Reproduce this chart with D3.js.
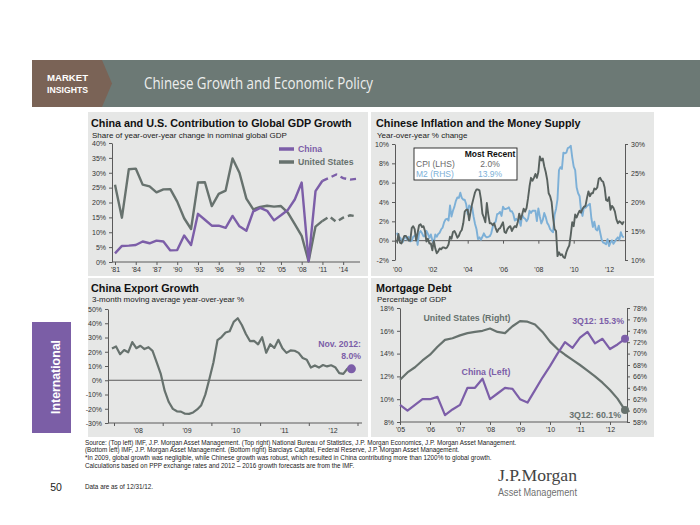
<!DOCTYPE html>
<html><head><meta charset="utf-8">
<script src="https://cdn.jsdelivr.net/npm/d3@7"></script>
<style>
body{margin:0;background:#fff}
svg{display:block;font-family:"Liberation Sans",Arial,sans-serif}
</style></head>
<body><svg id="c" width="700" height="525"></svg>
<script>
// ---------------- DATA ----------------
// Panel 1: China & US contribution to global GDP growth (%), 1981-2016 (2012-2016 IMF forecasts)
const gdpYears = [1981,1982,1983,1984,1985,1986,1987,1988,1989,1990,1991,1992,1993,1994,1995,1996,1997,1998,1999,2000,2001,2002,2003,2004,2005,2006,2007,2008,2009,2010,2011,2012,2013,2014,2015,2016];
const gdpChina = [2.9,5.4,5.5,5.7,6.9,6.3,7.2,6.9,3.9,4.0,8.9,5.7,16.2,14.2,12.2,12.2,11.5,15.5,12.0,10.5,17.0,18.2,17.2,14.0,15.7,17.5,21.0,26.7,0.3,23.8,27.3,28.3,29.4,28.2,27.7,28.0];
const gdpUS    = [26.0,14.9,31.2,31.4,26.0,25.4,23.4,24.4,24.5,20.3,14.7,11.1,26.7,26.8,18.8,22.9,24.0,34.8,30.0,21.3,17.7,18.5,18.9,18.6,18.8,16.6,12.7,8.8,0.2,11.9,13.8,15.3,13.5,14.9,15.7,15.3];
const gdpLastActual = 2011;
const gdpYTicks = [0,5,10,15,20,25,30,35,40];
const gdpXTicks = [1981,1984,1987,1990,1993,1996,1999,2002,2005,2008,2011,2014];
const gdpXLabels = ["'81","'84","'87","'90","'93","'96","'99","'02","'05","'08","'11","'14"];

// Panel 2: Chinese CPI (LHS) and M2 (RHS), y/y %, monthly Jan 2000 - Nov 2012
const cpiStartYear = 2000;
const cpi = [
 -0.2,0.7,-0.2,-0.3,0.1,0.5,0.5,0.3,0.0,0.0,1.3,1.5,
 1.2,0.0,0.8,1.6,1.7,1.4,1.5,1.0,-0.1,0.2,-0.3,-0.3,
 -1.0,0.0,-0.8,-1.3,-1.1,-0.8,-0.9,-0.7,-0.7,-0.8,-0.7,-0.4,
 0.4,0.2,0.9,1.0,0.7,0.3,0.5,0.9,1.1,1.8,3.0,3.2,
 3.2,2.1,3.0,3.8,4.4,5.0,5.3,5.3,5.2,4.3,2.8,2.4,
 1.9,3.9,2.7,1.8,1.8,1.6,1.8,1.3,0.9,1.2,1.3,1.6,
 1.9,0.9,0.8,1.2,1.4,1.5,1.0,1.3,1.5,1.4,1.9,2.8,
 2.2,2.7,3.3,3.0,3.4,4.4,5.6,6.5,6.2,6.5,6.9,6.5,
 7.1,8.7,8.3,8.5,7.7,7.1,6.3,4.9,4.6,4.0,2.4,1.2,
 1.0,-1.6,-1.2,-1.5,-1.4,-1.7,-1.8,-1.2,-0.8,-0.5,0.6,1.9,
 1.5,2.7,2.4,2.8,3.1,2.9,3.3,3.5,3.6,4.4,5.1,4.6,
 4.9,4.9,5.4,5.3,5.5,6.4,6.5,6.2,6.1,5.5,4.2,4.1,
 4.5,3.2,3.6,3.4,3.0,2.2,1.8,2.0,1.9,1.7,2.0];
const m2 = [
 14.7,13.8,13.9,13.5,13.1,14.0,13.9,13.5,14.0,13.2,13.3,14.0,
 14.2,14.4,12.6,14.6,15.0,14.6,14.1,14.1,15.0,14.5,13.8,14.4,
 13.4,13.0,14.4,14.0,14.5,14.7,15.3,15.6,16.5,17.0,17.1,16.8,
 19.4,17.5,18.5,19.2,20.2,20.8,20.7,21.6,20.7,20.4,20.4,19.6,
 17.9,19.4,19.1,19.1,17.5,16.2,15.3,13.6,13.9,13.5,14.0,14.6,
 14.1,13.9,14.0,14.1,14.6,15.7,16.3,16.6,17.9,18.0,18.3,17.6,
 19.2,18.8,18.8,18.9,19.1,18.4,18.4,17.9,16.8,17.1,16.8,16.9,
 15.9,17.8,17.3,17.1,16.7,17.1,18.5,18.1,18.5,18.5,18.5,16.7,
 18.9,17.5,16.3,16.9,18.1,17.4,16.4,16.0,15.3,15.0,14.8,17.8,
 18.8,20.5,25.5,26.0,25.7,28.5,28.4,28.5,29.3,29.4,29.7,27.7,
 26.1,25.5,22.5,21.5,21.0,18.5,17.6,19.2,19.0,19.3,19.5,19.7,
 17.2,15.7,16.6,15.3,15.1,15.9,14.7,13.5,13.0,12.9,12.7,13.6,
 12.4,13.0,13.4,12.8,13.2,13.6,13.9,13.5,14.8,14.1,13.9];
const infLeftTicks = [-2,0,2,4,6,8,10];
const infRightTicks = [10,15,20,25,30];
const infXTicks = [2000,2002,2004,2006,2008,2010,2012];
const infXLabels = ["'00","'02","'04","'06","'08","'10","'12"];
const mostRecentCPI = "2.0%";
const mostRecentM2 = "13.9%";

// Panel 3: China exports, 3-month moving average y/y %, monthly Dec 2007 - Nov 2012
const expStart = [2007, 12];
const exports3m = [
 22.3,
 23.7,18.3,21.2,19.6,26.8,22.5,24.2,21.9,23.2,20.6,12.8,4.7,
 -7.5,-15.3,-20.1,-21.8,-22.0,-23.5,-23.6,-22.6,-20.5,-17.5,-10.1,0.9,
 12.5,28.1,30.3,33.5,34.4,41.0,43.5,38.8,32.5,27.5,27.6,25.2,
 30.2,19.3,25.3,22.7,28.4,22.4,19.2,20.9,20.7,19.2,15.6,14.4,
 8.9,10.4,8.9,10.7,9.7,10.5,9.2,5.0,4.5,8.1,8.0];
const expYTicks = [-30,-20,-10,0,10,20,30,40,50];
const expXYears = [2008,2009,2010,2011,2012];
const expXLabels = ["'08","'09","'10","'11","'12"];

// Panel 4: Mortgage debt, % of GDP, quarterly 1Q05 - 3Q12
const mortStartYear = 2005;
const mortChina = [9.5,9.0,9.5,10.0, 10.0,10.2,8.6,9.1, 9.5,11.0,11.0,11.8, 10.0,10.5,11.0,10.9, 10.0,9.7,10.8,11.9, 12.9,14.0,15.0,14.5, 15.4,15.9,14.9,15.3, 14.4,14.8,15.3];
const mortUS    = [65.4,66.7,67.6,68.8, 69.8,71.2,72.4,72.7, 73.2,73.6,73.8,74.0, 74.4,73.8,73.6,74.8, 75.7,75.6,75.1,73.8, 72.1,70.8,69.8,68.9, 68.0,67.0,66.0,64.9, 63.6,62.1,60.1];
const mortLeftTicks = [8,10,12,14,16,18];
const mortRightTicks = [58,60,62,64,66,68,70,72,74,76,78];
const mortXYears = [2005,2006,2007,2008,2009,2010,2011,2012];
const mortXLabels = ["'05","'06","'07","'08","'09","'10","'11","'12"];

const footLines = [
 "Source: (Top left) IMF, J.P. Morgan Asset Management. (Top right) National Bureau of Statistics, J.P. Morgan Economics, J.P. Morgan Asset Management.",
 "(Bottom left) IMF, J.P. Morgan Asset Management. (Bottom right) Barclays Capital, Federal Reserve, J.P. Morgan Asset Management.",
 "*In 2009, global growth was negligible, while Chinese growth was robust, which resulted in China contributing more than 1200% to global growth.",
 "Calculations based on PPP exchange rates and 2012 \u2013 2016 growth forecasts are from the IMF."
];

// ---------------- STYLE ----------------
const PURPLE = "#7c5ea8", GRAY = "#67726e", DGRAY = "#58615e", BLUE = "#7db0d7";
const BG = "#e6e7e6", AX = "#5a5a5a", TXT = "#333";
const OPEN = "'Open Sans',sans-serif";

const svg = d3.select("#c");

// ---------- header ----------
svg.append("rect").attr("x",32).attr("y",60).attr("width",668).attr("height",47).attr("fill","#6c7975");
svg.append("path").attr("d","M32,60 L102,60 L112,83.5 L102,107 L32,107 Z").attr("fill","#7a6356");
svg.append("text").attr("x",47).attr("y",80.5).attr("font-size",9.5).attr("font-weight","bold")
  .attr("fill","#fff").attr("textLength",41).attr("lengthAdjust","spacingAndGlyphs").text("MARKET");
svg.append("text").attr("x",47).attr("y",92.5).attr("font-size",9.5).attr("font-weight","bold")
  .attr("fill","#fff").attr("textLength",41).attr("lengthAdjust","spacingAndGlyphs").text("INSIGHTS");
svg.append("text").attr("x",144).attr("y",89).attr("font-size",15.5)
  .attr("fill","#eceeed").style("font-family",OPEN).attr("textLength",229).attr("lengthAdjust","spacingAndGlyphs").text("Chinese Growth and Economic Policy");

// ---------- side tab ----------
svg.append("rect").attr("x",32).attr("y",322).attr("width",39).attr("height",111).attr("fill","#7b5ea6");
svg.append("text").attr("transform","translate(56,377) rotate(-90)").attr("text-anchor","middle")
  .attr("dominant-baseline","central").attr("font-size",12.3).attr("font-weight","bold").attr("fill","#fff").text("International");
svg.append("text").attr("x",56).attr("y",491).attr("text-anchor","middle").attr("font-size",10.5).attr("fill","#222").text("50");

// ---------- panels ----------
[[88,112,280,164],[371,112,283,164],[88,278,280,159],[371,278,283,159]].forEach(p=>{
  svg.append("rect").attr("x",p[0]).attr("y",p[1]).attr("width",p[2]).attr("height",p[3]).attr("fill",BG);
});

function title(x,y,t,s){
  svg.append("text").attr("x",x).attr("y",y).attr("font-size",10.8).attr("font-weight","bold").attr("fill","#111").text(t);
  svg.append("text").attr("x",x+1).attr("y",y+10.5).attr("font-size",8).attr("fill","#222").text(s);
}
function styleAxis(g){
  g.attr("font-family",null);
  g.selectAll(".domain").attr("stroke",AX);
  g.selectAll(".tick line").attr("stroke",AX);
  g.selectAll(".tick text").attr("font-size",7).attr("fill",TXT);
}
function hline(x1,x2,y){ svg.append("line").attr("x1",x1).attr("x2",x2).attr("y1",y).attr("y2",y).attr("stroke",AX).attr("stroke-width",1); }
function label(x,y,t,c,anchor,size,w){
  svg.append("text").attr("x",x).attr("y",y).attr("text-anchor",anchor||"start").attr("font-size",size||8.7)
   .attr("font-weight",w||"bold").attr("fill",c).text(t);
}

// ===== Panel 1 =====
title(91,127,"China and U.S. Contribution to Global GDP Growth","Share of year-over-year change in nominal global GDP");
{
  const x = d3.scaleLinear().domain([1981,2016]).range([115,357]);
  const y = d3.scaleLinear().domain([0,40]).range([262,143]);
  const gy = svg.append("g").attr("transform","translate(112,0)")
    .call(d3.axisLeft(y).tickValues(gdpYTicks).tickFormat(d=>d+"%").tickSize(3).tickSizeOuter(0).tickPadding(3));
  styleAxis(gy);
  const gx = svg.append("g").attr("transform","translate(0,262)")
    .call(d3.axisBottom(x).tickValues(gdpXTicks).tickFormat((d,i)=>gdpXLabels[i]).tickSize(3).tickSizeOuter(0).tickPadding(2));
  styleAxis(gx); gx.select(".domain").remove();
  hline(112,360,262);
  const pts = (arr)=>gdpYears.map((yr,i)=>({yr,v:arr[i]}));
  const line = d3.line().x(d=>x(d.yr)).y(d=>y(d.v));
  [[gdpUS,GRAY],[gdpChina,PURPLE]].forEach(([arr,c])=>{
    const all = pts(arr);
    const solid = all.filter(d=>d.yr<=gdpLastActual), dash = all.filter(d=>d.yr>=gdpLastActual);
    svg.append("path").attr("d",line(solid)).attr("fill","none").attr("stroke",c).attr("stroke-width",2.4).attr("stroke-linejoin","round");
    svg.append("path").attr("d",line(dash)).attr("fill","none").attr("stroke",c).attr("stroke-width",2.4).attr("stroke-dasharray","6,4");
  });
  // legend
  [["China",PURPLE,149],["United States",GRAY,162]].forEach(([t,c,yy])=>{
    svg.append("line").attr("x1",279).attr("x2",294).attr("y1",yy).attr("y2",yy).attr("stroke",c).attr("stroke-width",3.5);
    label(298,yy+3.2,t,c,"start",8.7);
  });
}

// ===== Panel 2 =====
title(376,127,"Chinese Inflation and the Money Supply","Year-over-year % change");
{
  const x = d3.scaleLinear().domain([2000,2013]).range([397,397+13*17.67]);
  const yL = d3.scaleLinear().domain([-2,10]).range([260,144]);
  const yR = d3.scaleLinear().domain([10,30]).range([260,144]);
  const gl = svg.append("g").attr("transform","translate(395,0)")
    .call(d3.axisLeft(yL).tickValues(infLeftTicks).tickFormat(d=>d+"%").tickSize(3).tickSizeOuter(0).tickPadding(3));
  styleAxis(gl);
  const gr = svg.append("g").attr("transform","translate(625,0)")
    .call(d3.axisRight(yR).tickValues(infRightTicks).tickFormat(d=>d+"%").tickSize(3).tickSizeOuter(0).tickPadding(3));
  styleAxis(gr);
  const gx = svg.append("g").attr("transform",`translate(0,${yL(0)})`)
    .call(d3.axisBottom(x).tickValues(infXTicks).tickFormat((d,i)=>infXLabels[i]).tickSize(3).tickSizeOuter(0).tickPadding(23));
  styleAxis(gx); gx.select(".domain").remove();
  hline(395,625,yL(0));
  const t = i => cpiStartYear + i/12;
  svg.append("path").attr("d",d3.line().x((d,i)=>x(t(i))).y(d=>yR(d))(m2))
    .attr("fill","none").attr("stroke",BLUE).attr("stroke-width",1.9).attr("stroke-linejoin","round");
  svg.append("path").attr("d",d3.line().x((d,i)=>x(t(i))).y(d=>yL(d))(cpi))
    .attr("fill","none").attr("stroke",DGRAY).attr("stroke-width",1.9).attr("stroke-linejoin","round");
  // box
  svg.append("rect").attr("x",414).attr("y",148).attr("width",103).attr("height",32).attr("fill","#fff").attr("stroke","#222").attr("stroke-width",0.9);
  label(490,156.5,"Most Recent","#111","middle",8.5);
  label(416,166.5,"CPI (LHS)","#6a6a6a","start",8.5,"normal");
  label(490,166.5,mostRecentCPI,"#6a6a6a","middle",8.5,"normal");
  label(416,177,"M2 (RHS)",BLUE,"start",8.5,"normal");
  label(490,177,mostRecentM2,BLUE,"middle",8.5,"normal");
}

// ===== Panel 3 =====
title(91,291.5,"China Export Growth","3-month moving average year-over-year %");
{
  const x = d3.scaleLinear().domain([2008,2013]).range([114,114+5*48.7]);
  const y = d3.scaleLinear().domain([-30,50]).range([423,309]);
  const gy = svg.append("g").attr("transform","translate(108,0)")
    .call(d3.axisLeft(y).tickValues(expYTicks).tickFormat(d=>d+"%").tickSize(3).tickSizeOuter(0).tickPadding(3));
  styleAxis(gy);
  hline(108,362,423);
  hline(108,362,y(0));
  const gx = svg.append("g").attr("transform","translate(0,423)")
    .call(d3.axisBottom(x).tickValues(expXYears.concat([2013])).tickFormat("").tickSize(3).tickSizeOuter(0));
  styleAxis(gx); gx.select(".domain").remove();
  expXYears.forEach((yr,i)=>{
    svg.append("text").attr("x",x(yr+0.5)).attr("y",433).attr("text-anchor","middle").attr("font-size",7).attr("fill",TXT).text(expXLabels[i]);
  });
  const t = i => expStart[0] + (expStart[1]-1+i+0.5)/12;
  svg.append("path").attr("d",d3.line().x((d,i)=>x(t(i))).y(d=>y(d))(exports3m))
    .attr("fill","none").attr("stroke",GRAY).attr("stroke-width",2.2).attr("stroke-linejoin","round");
  const li = exports3m.length-1;
  svg.append("circle").attr("cx",x(t(li))).attr("cy",y(exports3m[li])).attr("r",4.5).attr("fill",PURPLE);
  label(361,347,"Nov. 2012:",PURPLE,"end",8.7);
  label(361,358.5,exports3m[li].toFixed(1)+"%",PURPLE,"end",8.7);
}

// ===== Panel 4 =====
title(376,291.5,"Mortgage Debt","Percentage of GDP");
{
  const x = d3.scaleLinear().domain([2005,2013]).range([400,640]);
  const yL = d3.scaleLinear().domain([8,18]).range([422,308]);
  const yR = d3.scaleLinear().domain([58,78]).range([422,308]);
  const gl = svg.append("g").attr("transform","translate(400,0)")
    .call(d3.axisLeft(yL).tickValues(mortLeftTicks).tickFormat(d=>d+"%").tickSize(3).tickSizeOuter(0).tickPadding(3));
  styleAxis(gl);
  const gr = svg.append("g").attr("transform","translate(627,0)")
    .call(d3.axisRight(yR).tickValues(mortRightTicks).tickFormat(d=>d+"%").tickSize(3).tickSizeOuter(0).tickPadding(3));
  styleAxis(gr);
  const gx = svg.append("g").attr("transform","translate(0,422)")
    .call(d3.axisBottom(x).tickValues(mortXYears).tickFormat((d,i)=>mortXLabels[i]).tickSize(3).tickSizeOuter(0).tickPadding(2));
  styleAxis(gx); gx.select(".domain").remove();
  hline(400,627,422);
  const t = i => mortStartYear + i/4;
  svg.append("path").attr("d",d3.line().x((d,i)=>x(t(i))).y(d=>yR(d))(mortUS))
    .attr("fill","none").attr("stroke",GRAY).attr("stroke-width",2.2).attr("stroke-linejoin","round");
  svg.append("path").attr("d",d3.line().x((d,i)=>x(t(i))).y(d=>yL(d))(mortChina))
    .attr("fill","none").attr("stroke",PURPLE).attr("stroke-width",2.2).attr("stroke-linejoin","round");
  const li = mortUS.length-1;
  svg.append("circle").attr("cx",x(t(li))).attr("cy",yR(mortUS[li])).attr("r",4).attr("fill",GRAY);
  svg.append("circle").attr("cx",x(t(li))).attr("cy",yL(mortChina[li])).attr("r",4).attr("fill",PURPLE);
  label(467,321,"United States (Right)",GRAY,"middle",8.8);
  label(486,375,"China (Left)",PURPLE,"middle",8.8);
  label(624,324,"3Q12: "+mortChina[li].toFixed(1)+"%",PURPLE,"end",8.8);
  label(621,418,"3Q12: "+mortUS[li].toFixed(1)+"%",GRAY,"end",8.8);
}

// ---------- footer ----------
footLines.forEach((l,i)=>{
  svg.append("text").attr("x",85).attr("y",444.5+i*7.75).attr("font-size",6.35).attr("fill","#222").text(l);
});
svg.append("text").attr("x",85).attr("y",488.5).attr("font-size",6.35).attr("fill","#222").text("Data are as of 12/31/12.");
svg.append("text").attr("x",498).attr("y",481).attr("font-size",17).attr("fill","#444")
  .style("font-family","'Liberation Serif','Times New Roman',serif").attr("textLength",79).attr("lengthAdjust","spacingAndGlyphs").text("J.P.Morgan");
svg.append("text").attr("x",498).attr("y",495.5).attr("font-size",10.5).attr("fill","#707070")
  .style("font-family","'Liberation Sans Narrow','Liberation Sans',sans-serif").attr("textLength",79).attr("lengthAdjust","spacingAndGlyphs").text("Asset Management");
</script></body></html>
